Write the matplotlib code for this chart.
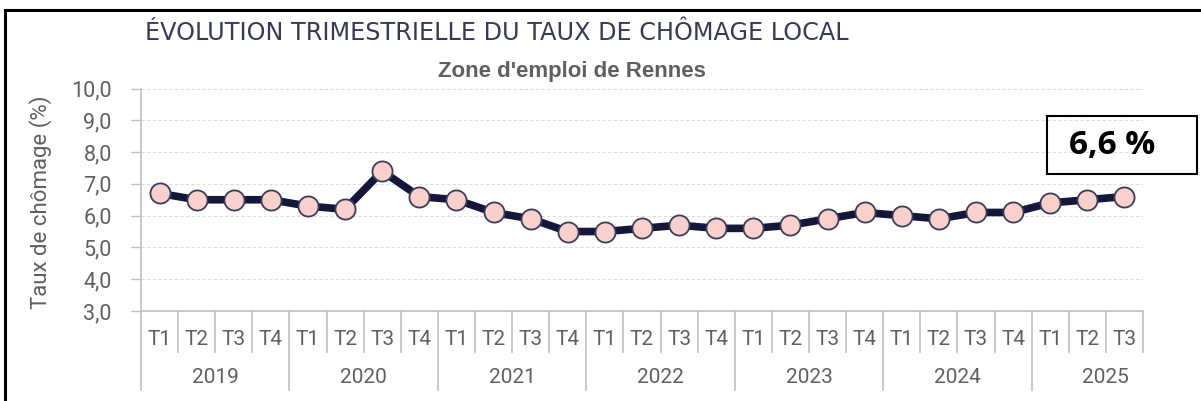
import matplotlib
matplotlib.use("Agg")
import matplotlib.pyplot as plt
from matplotlib.patches import Rectangle
from matplotlib.transforms import blended_transform_factory

# unemployment rate, Rennes job zone, 2019 T1 -> 2025 T3
years = ["2019", "2020", "2021", "2022", "2023", "2024", "2025"]
quarters = ["T1", "T2", "T3", "T4"] * 6 + ["T1", "T2", "T3"]
rate = [6.7, 6.5, 6.5, 6.5, 6.3, 6.2, 7.4, 6.6,
        6.5, 6.1, 5.9, 5.5, 5.5, 5.6, 5.7, 5.6,
        5.6, 5.7, 5.9, 6.1, 6.0, 5.9, 6.1, 6.1,
        6.4, 6.5, 6.6]
yticks = [3, 4, 5, 6, 7, 8, 9, 10]
last_label = "6,6 %"

W, H = 1201, 401
axfont = "Roboto"
grey_txt = "#5f5f5f"
navy = "#14163a"

fig = plt.figure(figsize=(W / 100, H / 100), dpi=100)
ax = fig.add_axes([141 / W, 90 / H, (1143 - 141) / W, 222.5 / H])

x = list(range(len(rate)))
ax.plot(x, rate, color=navy, lw=5.5, solid_joinstyle="round", zorder=3,
        marker="o", markersize=14.5, markerfacecolor="#f9d0cc",
        markeredgecolor="#3a3c5c", markeredgewidth=1.3)

ax.set_xlim(-0.5, len(rate) - 0.5)
ax.set_ylim(3, 10)
ax.set_yticks(yticks)
ax.set_yticklabels([f"{v},0" for v in yticks], fontsize=15.5, color=grey_txt,
                   family=axfont)
ax.tick_params(axis="y", length=7, color="#bfbfbf", width=1, pad=14)
ax.set_xticks([])
for v in yticks[1:]:
    ax.axhline(v, color="#dcdcdc", lw=0.8, ls=(0, (3, 2)), zorder=1)

for side in ["top", "right"]:
    ax.spines[side].set_visible(False)
for side in ["left", "bottom"]:
    ax.spines[side].set_color("#c0c0c0")
    ax.spines[side].set_linewidth(1.2)

# category axis: quarters then years
tr = blended_transform_factory(ax.transData, ax.transAxes)
for i in range(len(rate) + 1):
    low = -0.355 if (i % 4 == 0 and i < len(rate)) else -0.184
    ax.plot([i - 0.5, i - 0.5], [0, low], color="#c0c0c0", lw=1.2,
            transform=tr, clip_on=False)
for i, q in enumerate(quarters):
    ax.text(i, -0.13, q, transform=tr, ha="center", va="center",
            fontsize=15, color=grey_txt, family=axfont)
for k, yr in enumerate(years):
    ax.text(4 * k + 1.5, -0.30, yr, transform=tr, ha="center", va="center",
            fontsize=15, color=grey_txt, family=axfont)

ax.set_ylabel("Taux de chômage (%)", fontsize=16, color=grey_txt,
              family=axfont)
ax.yaxis.set_label_coords(-0.089, 0.49)

fig.text(145 / W, 1 - 33 / H, "ÉVOLUTION TRIMESTRIELLE DU TAUX DE CHÔMAGE LOCAL",
         fontsize=17.2, color="#363a56", family="DejaVu Sans", ha="left",
         va="center")
fig.text(572 / W, 1 - 72 / H, "Zone d'emploi de Rennes", fontsize=16,
         color=grey_txt, fontweight="bold", family="Liberation Sans",
         ha="center", va="center")

# highlighted last value
fig.patches.append(Rectangle((1047 / W, 1 - 174 / H), 150 / W, 58 / H,
                             transform=fig.transFigure, fill=False,
                             edgecolor="black", lw=1.5))
fig.text(1112 / W, 1 - 145 / H, last_label, fontsize=24, fontweight="bold",
         color="black", family="Open Sans", ha="center", va="center")

# outer frame (cut at right/bottom like the source)
fig.patches.append(Rectangle((5 / W, -0.1), 1.2, 1 - 10 / H + 0.1,
                             transform=fig.transFigure, fill=False,
                             edgecolor="black", lw=2.2))

fig.savefig("out.png", dpi=100)
